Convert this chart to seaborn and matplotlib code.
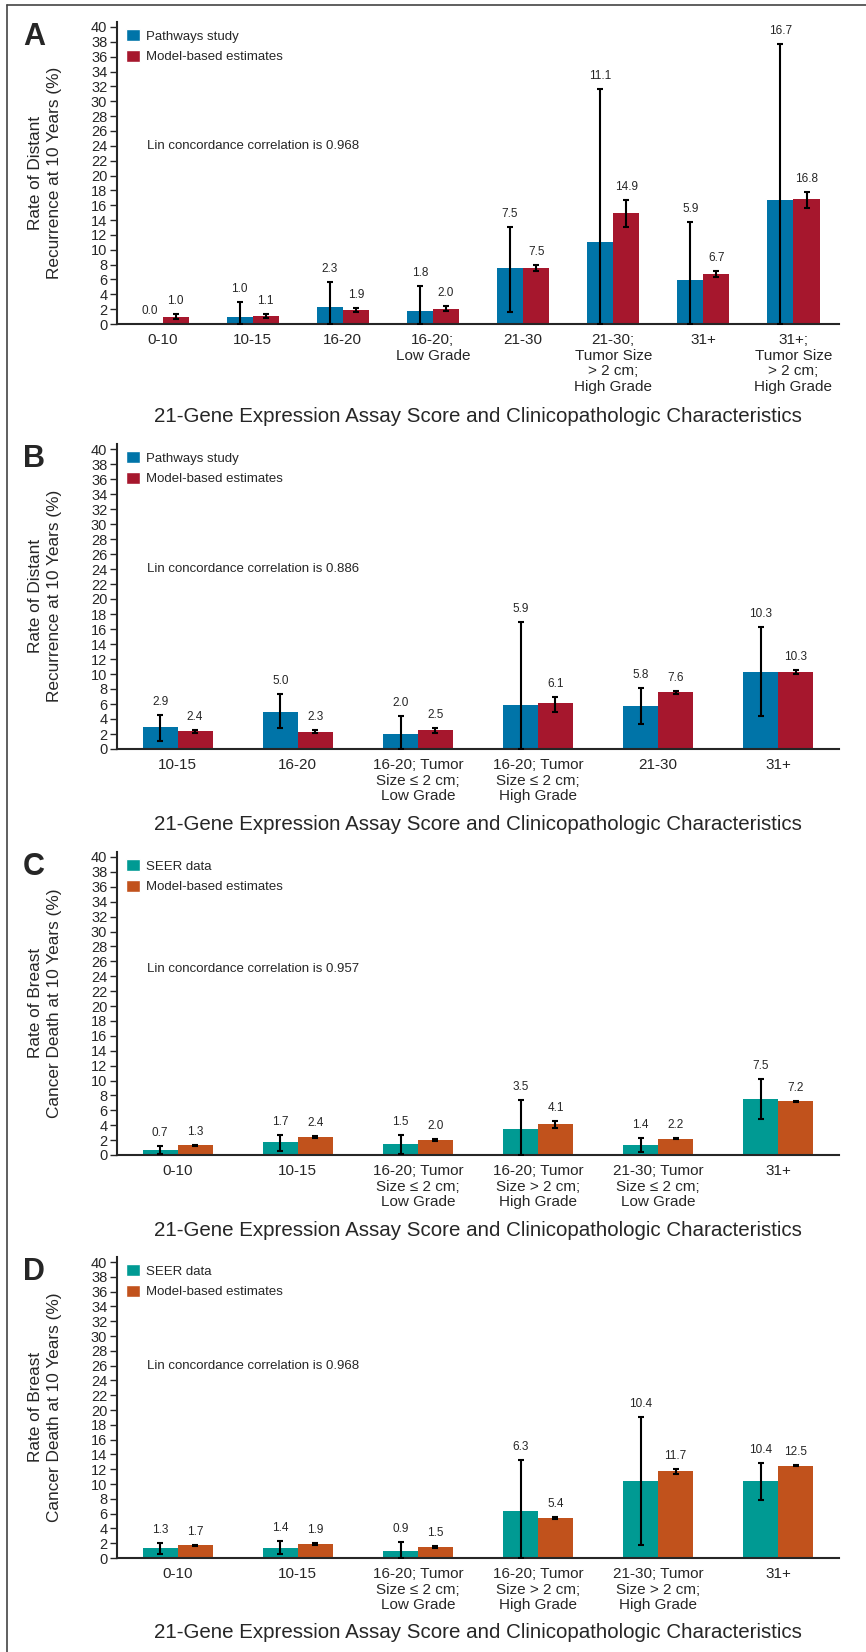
import numpy as np
import pandas as pd
import matplotlib
matplotlib.use("Agg")
import matplotlib.pyplot as plt
import seaborn as sns
from matplotlib.patches import Patch
from matplotlib.lines import Line2D

# ---- data ----
cats_a = ['0-10', '10-15', '16-20', '16-20;\nLow Grade', '21-30',
          '21-30;\nTumor Size\n> 2 cm;\nHigh Grade', '31+',
          '31+;\nTumor Size\n> 2 cm;\nHigh Grade']
path_a = [0.0, 1.0, 2.3, 1.8, 7.5, 11.1, 5.9, 16.7]
path_a_lo = [np.nan, 0.0, 0.0, 0.0, 1.6, 0.0, 0.0, 0.0]
path_a_hi = [np.nan, 3.0, 5.6, 5.1, 13.1, 31.6, 13.8, 37.7]
model_a = [1.0, 1.1, 1.9, 2.0, 7.5, 14.9, 6.7, 16.8]
model_a_lo = [0.7, 0.8, 1.6, 1.7, 7.2, 13.0, 6.3, 15.6]
model_a_hi = [1.3, 1.4, 2.2, 2.4, 7.9, 16.7, 7.1, 17.8]

cats_b = ['10-15', '16-20', '16-20; Tumor\nSize \u2264 2 cm;\nLow Grade',
          '16-20; Tumor\nSize \u2264 2 cm;\nHigh Grade', '21-30', '31+']
path_b = [2.9, 5.0, 2.0, 5.9, 5.8, 10.3]
path_b_lo = [1.1, 2.8, 0.0, 0.0, 3.3, 4.4]
path_b_hi = [4.6, 7.3, 4.4, 17.0, 8.2, 16.3]
model_b = [2.4, 2.3, 2.5, 6.1, 7.6, 10.3]
model_b_lo = [2.2, 2.1, 2.2, 5.0, 7.3, 10.0]
model_b_hi = [2.6, 2.5, 2.8, 7.0, 7.8, 10.6]

cats_c = ['0-10', '10-15', '16-20; Tumor\nSize \u2264 2 cm;\nLow Grade',
          '16-20; Tumor\nSize > 2 cm;\nHigh Grade',
          '21-30; Tumor\nSize \u2264 2 cm;\nLow Grade', '31+']
seer_c = [0.7, 1.7, 1.5, 3.5, 1.4, 7.5]
seer_c_lo = [0.1, 0.6, 0.2, 0.0, 0.4, 4.8]
seer_c_hi = [1.2, 2.7, 2.7, 7.4, 2.3, 10.2]
model_c = [1.3, 2.4, 2.0, 4.1, 2.2, 7.2]
model_c_lo = [1.2, 2.3, 1.9, 3.6, 2.1, 7.1]
model_c_hi = [1.4, 2.5, 2.2, 4.6, 2.3, 7.3]

cats_d = ['0-10', '10-15', '16-20; Tumor\nSize \u2264 2 cm;\nLow Grade',
          '16-20; Tumor\nSize > 2 cm;\nHigh Grade',
          '21-30; Tumor\nSize > 2 cm;\nHigh Grade', '31+']
seer_d = [1.3, 1.4, 0.9, 6.3, 10.4, 10.4]
seer_d_lo = [0.6, 0.6, 0.0, 0.0, 1.7, 7.8]
seer_d_hi = [2.0, 2.3, 2.2, 13.2, 19.0, 12.9]
model_d = [1.7, 1.9, 1.5, 5.4, 11.7, 12.5]
model_d_lo = [1.6, 1.8, 1.4, 5.3, 11.4, 12.4]
model_d_hi = [1.8, 2.0, 1.6, 5.5, 12.0, 12.6]

BLUE, RED = '#0074A8', '#A6172D'
TEAL, ORANGE = '#009A93', '#C1521C'
XLABEL = '21-Gene Expression Assay Score and Clinicopathologic Characteristics'
YLAB_DR = 'Rate of Distant\nRecurrence at 10 Years (%)'
YLAB_BC = 'Rate of Breast\nCancer Death at 10 Years (%)'

sns.set_style('ticks')
plt.rcParams['font.family'] = ['Liberation Sans', 'DejaVu Sans']

W, H = 866, 1652
fig = plt.figure(figsize=(W / 100, H / 100), dpi=100)


def panel(cats, names, colors, s1, s2, lin, lin_y, letter, tick40, bottom,
          letter_base, xlab_y, ylabel):
    top = bottom - (bottom - tick40) * 40.7 / 40
    ax = fig.add_axes([117 / W, 1 - bottom / H, 722 / W, (bottom - top) / H])
    n = len(cats)
    df = pd.DataFrame({'cat': cats * 2,
                       'series': [names[0]] * n + [names[1]] * n,
                       'value': s1[0] + s2[0]})
    sns.barplot(data=df, x='cat', y='value', hue='series', order=cats,
                hue_order=names, palette=dict(zip(names, colors)),
                width=0.58, errorbar=None, legend=False, saturation=1,
                linewidth=0, ax=ax)
    for cont, (vals, lo, hi) in zip(ax.containers, [s1, s2]):
        xs = np.array([b.get_x() + b.get_width() / 2 for b in cont])
        v, l, h = np.array(vals), np.array(lo), np.array(hi)
        ok = ~np.isnan(l)
        ax.errorbar(xs[ok], v[ok], yerr=[v[ok] - l[ok], h[ok] - v[ok]],
                    fmt='none', ecolor='black', elinewidth=1.5, capsize=2,
                    capthick=1.5, zorder=5)
        for x, val, hh in zip(xs, v, h):
            ytop = val if np.isnan(hh) else max(val, hh)
            ax.annotate(f'{val:.1f}', (x, ytop), xytext=(0, 5),
                        textcoords='offset points', ha='center', va='bottom',
                        fontsize=8.5)
    ax.set_ylim(0, 40.7)
    ax.set_xlim(-0.505, n - 0.495)
    ax.set_yticks(range(0, 41, 2))
    ax.set_xticks(range(n))
    ax.set_xticklabels(cats, linespacing=1.15)
    ax.set_xlabel('')
    ax.set_ylabel('')
    ax.tick_params(axis='y', length=5, width=1, pad=2, labelsize=10.5)
    ax.tick_params(axis='x', length=0, pad=6.5, labelsize=11)
    sns.despine(ax=ax)
    for sp in ['left', 'bottom']:
        ax.spines[sp].set_linewidth(1.5)
    handles = [Patch(facecolor=c, label=nm) for c, nm in zip(colors, names)]
    ax.legend(handles=handles, loc='upper left', bbox_to_anchor=(0.0125, 0.975),
              frameon=False, fontsize=9.5, handlelength=1.05, handleheight=1.0,
              handletextpad=0.5, labelspacing=0.55, borderaxespad=0,
              borderpad=0)
    ax.text(0.0416, lin_y, lin, transform=ax.get_yaxis_transform(),
            va='center', ha='left', fontsize=9.5)
    fig.text(23 / W, 1 - letter_base / H, letter, fontsize=22,
             fontweight='bold', va='baseline', ha='left')
    fig.text(45 / W, 1 - (top + bottom) / 2 / H, ylabel, rotation=90,
             ha='center', va='center', fontsize=12.4, linespacing=1.35,
             multialignment='center')
    fig.text(478 / W, 1 - xlab_y / H, XLABEL, ha='center', va='center',
             fontsize=14.8, family=['Liberation Sans Narrow', 'Liberation Sans'])
    return ax


panel(cats_a, ['Pathways study', 'Model-based estimates'], [BLUE, RED],
      (path_a, path_a_lo, path_a_hi), (model_a, model_a_lo, model_a_hi),
      'Lin concordance correlation is 0.968', 24, 'A', 27, 324, 45, 417, YLAB_DR)
panel(cats_b, ['Pathways study', 'Model-based estimates'], [BLUE, RED],
      (path_b, path_b_lo, path_b_hi), (model_b, model_b_lo, model_b_hi),
      'Lin concordance correlation is 0.886', 24, 'B', 449, 749, 467, 825, YLAB_DR)
panel(cats_c, ['SEER data', 'Model-based estimates'], [TEAL, ORANGE],
      (seer_c, seer_c_lo, seer_c_hi), (model_c, model_c_lo, model_c_hi),
      'Lin concordance correlation is 0.957', 25, 'C', 857, 1155, 875, 1230, YLAB_BC)
panel(cats_d, ['SEER data', 'Model-based estimates'], [TEAL, ORANGE],
      (seer_d, seer_d_lo, seer_d_hi), (model_d, model_d_lo, model_d_hi),
      'Lin concordance correlation is 0.968', 26, 'D', 1262, 1558, 1280, 1633, YLAB_BC)

# frame around the figure (left and top edges)
fig.add_artist(Line2D([7 / W, 7 / W], [0, 1 - 5 / H], transform=fig.transFigure,
                      color='#444444', lw=1.2))
fig.add_artist(Line2D([7 / W, 1], [1 - 5 / H, 1 - 5 / H], transform=fig.transFigure,
                      color='#444444', lw=1.2))

fig.savefig('out.png', dpi=100)
